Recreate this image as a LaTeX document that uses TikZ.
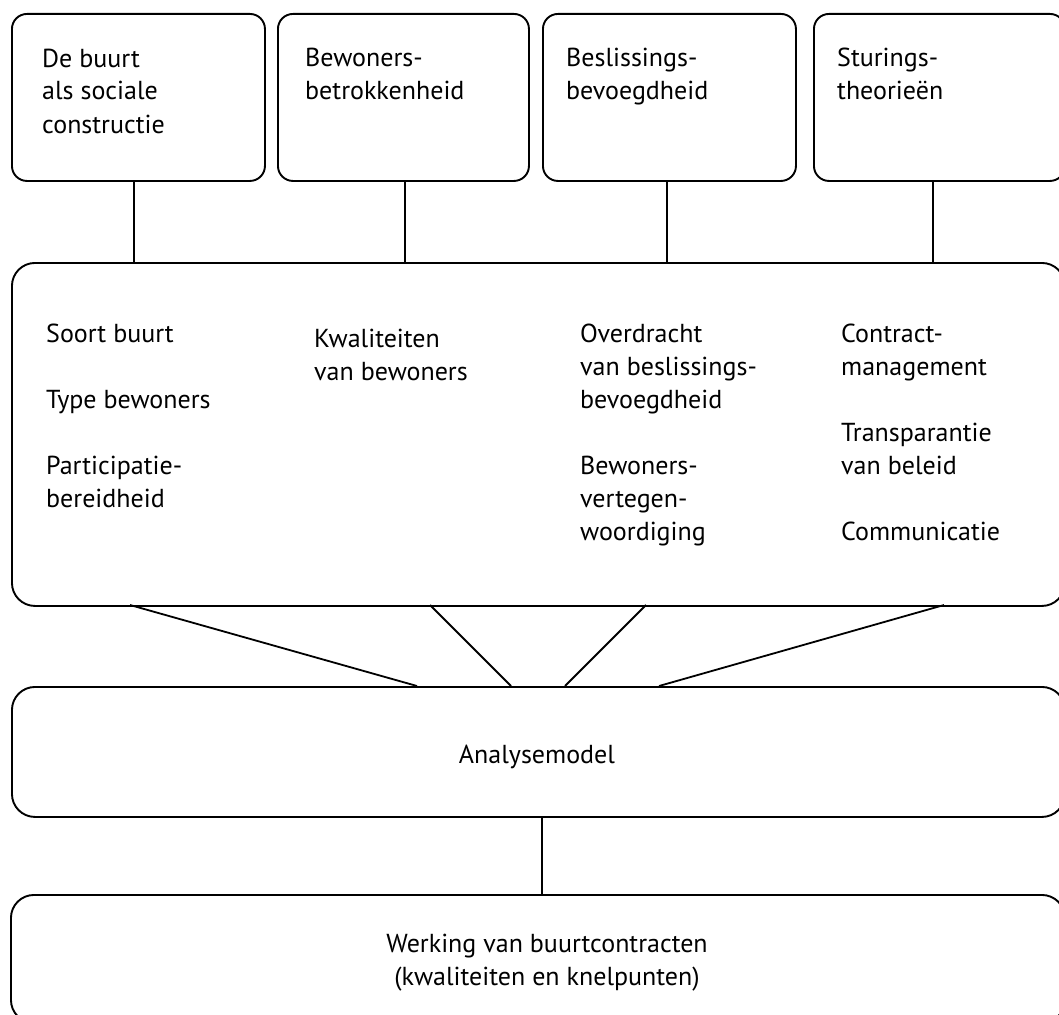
\documentclass[tikz,border=0pt]{standalone}
\usepackage{fontspec}
\setmainfont{PT Sans}
\begin{document}
\begin{tikzpicture}[x=1pt,y=-1pt,
  box/.style={draw=black, line width=1.9pt, rounded corners=15pt, inner sep=0pt, anchor=north west},
  bigbox/.style={box, rounded corners=23pt},
  txt/.style={font=\fontsize{26}{33}\selectfont, inner sep=0pt, align=left, anchor=base west},
  ctxt/.style={font=\fontsize{26}{33}\selectfont, inner sep=0pt, align=center, anchor=base},
  conn/.style={line width=1.8pt}]
\useasboundingbox (0,0) rectangle (1059,1014);
% top boxes
\node[box, minimum width=253pt, minimum height=167pt] (t1) at (11,13) {};
\node[box, minimum width=251pt, minimum height=167pt] (t2) at (277,13) {};
\node[box, minimum width=253pt, minimum height=167pt] (t3) at (542,13) {};
\node[box, minimum width=251pt, minimum height=167pt] (t4) at (813,13) {};
% (base anchor = baseline of the last line)
\node[txt] (t1l) at (42,133) {De buurt\\als sociale\\constructie};
\node[txt] (t2l) at (305,100) {Bewoners-\\betrokkenheid};
\node[txt] (t3l) at (566,100) {Beslissings-\\bevoegdheid};
\node[txt] (t4l) at (837,100) {Sturings-\\theorieën};
% middle box
\node[bigbox, minimum width=1053pt, minimum height=343pt] (mid) at (11,262) {};
\node[txt] (c1) at (46,507) {Soort buurt\\[33pt]Type bewoners\\[33pt]Participatie-\\bereidheid};
\node[txt] (c2) at (314,380) {Kwaliteiten\\van bewoners};
\node[txt] (c3) at (580,540) {Overdracht\\van beslissings-\\bevoegdheid\\[33pt]Bewoners-\\vertegen-\\woordiging};
\node[txt] (c4) at (841,540) {Contract-\\management\\[33pt]Transparantie\\van beleid\\[33pt]Communicatie};
% analysemodel
\node[bigbox, minimum width=1053pt, minimum height=130pt] (an) at (11,686) {};
\node[ctxt] (anl) at (537,763) {Analysemodel};
% bottom box
\node[bigbox, minimum width=1054pt, minimum height=128pt] (wb) at (10,894) {};
\node[ctxt] (wbl) at (547,985) {Werking van buurtcontracten\\(kwaliteiten en knelpunten)};
% connectors
\coordinate (v1) at (134,0);
\coordinate (v2) at (405,0);
\coordinate (v3) at (667,0);
\coordinate (v4) at (933,0);
\draw[conn] (t1.south -| v1) -- (mid.north -| v1);
\draw[conn] (t2.south -| v2) -- (mid.north -| v2);
\draw[conn] (t3.south -| v3) -- (mid.north -| v3);
\draw[conn] (t4.south -| v4) -- (mid.north -| v4);
\coordinate (m1) at (130,605); \coordinate (a1) at (417,686);
\coordinate (m2) at (430,605); \coordinate (a2) at (511,686);
\coordinate (m3) at (646,605); \coordinate (a3) at (565,686);
\coordinate (m4) at (944,605); \coordinate (a4) at (659,686);
\coordinate (j) at (542,0);
\draw[conn] (m1) -- (a1);
\draw[conn] (m2) -- (a2);
\draw[conn] (m3) -- (a3);
\draw[conn] (m4) -- (a4);
\draw[conn] (an.south -| j) -- (wb.north -| j);
\end{tikzpicture}
\end{document}
